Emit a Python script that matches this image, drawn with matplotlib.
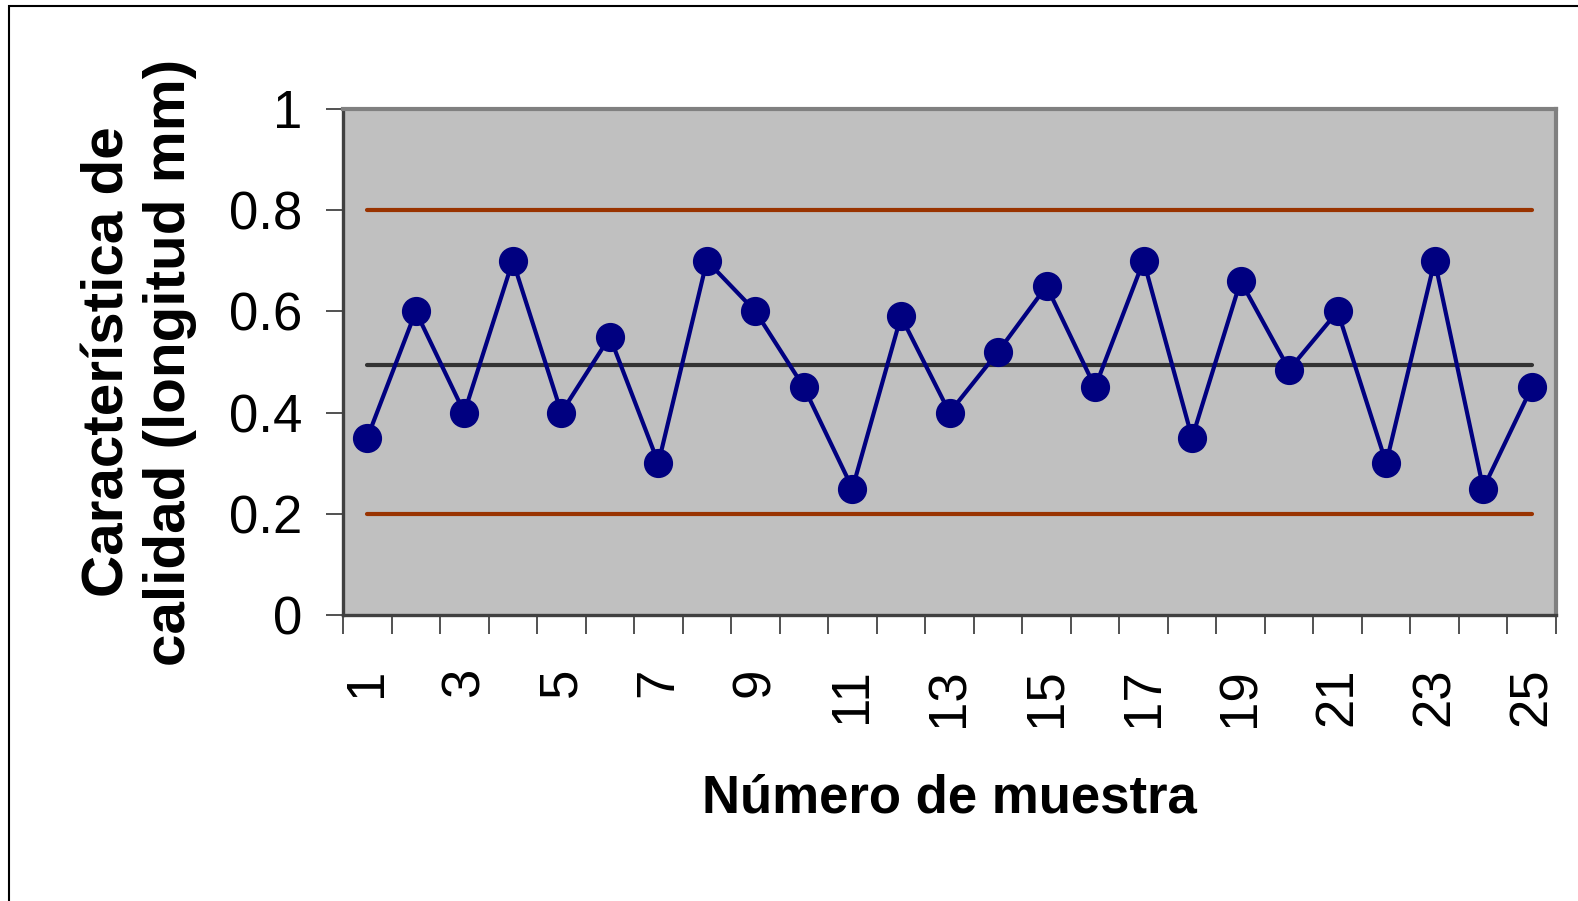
import numpy as np
import matplotlib
matplotlib.use("Agg")
from matplotlib import pyplot as plt
from matplotlib.patches import Rectangle

# Data
muestras = list(range(1, 26))
longitud = [0.35, 0.60, 0.40, 0.70, 0.40, 0.55, 0.30, 0.70, 0.60, 0.45,
            0.25, 0.59, 0.40, 0.52, 0.65, 0.45, 0.70, 0.35, 0.66, 0.485,
            0.60, 0.30, 0.70, 0.25, 0.45]
limite_superior = 0.8
linea_central = 0.495
limite_inferior = 0.2
y_ticks = [0, 0.2, 0.4, 0.6, 0.8, 1]
y_tick_labels = ["0", "0.2", "0.4", "0.6", "0.8", "1"]

# Styling
SERIES_COLOR = "#000080"
LIMIT_COLOR = "#993300"
CENTER_COLOR = "#333333"
PLOT_BG = "#C0C0C0"
FONT = ["Liberation Sans", "Arial", "DejaVu Sans"]
TICK_FONTSIZE = 38

plt.rcParams["font.family"] = FONT

fig = plt.figure(figsize=(15.78, 9.01), dpi=100)
ax = fig.add_axes([343 / 1578, 1 - 615 / 901, (1556 - 343) / 1578, (615 - 109) / 901])
ax.set_facecolor(PLOT_BG)

# Control limits and centre line, drawn from first to last sample
x_first, x_last = muestras[0], muestras[-1]
for level, color in [(limite_superior, LIMIT_COLOR),
                     (linea_central, CENTER_COLOR),
                     (limite_inferior, LIMIT_COLOR)]:
    ax.plot([x_first, x_last], [level, level], color=color, linewidth=3.0,
            solid_capstyle="round", zorder=2)

# Sample measurements
ax.plot(muestras, longitud, color=SERIES_COLOR, linewidth=3.0, marker="o",
        markersize=20, markerfacecolor=SERIES_COLOR, markeredgecolor=SERIES_COLOR,
        zorder=3)

ax.set_xlim(0.5, 25.5)
ax.set_ylim(0, 1)

# Y axis
ax.set_yticks(y_ticks)
ax.set_yticklabels(y_tick_labels, fontsize=TICK_FONTSIZE)
ax.tick_params(axis="y", direction="out", length=12, width=1.2, pad=17,
               color="#333333")

# X axis: tick marks between categories, labels on odd samples
ax.set_xticks(np.arange(0.5, 26, 1.0))
ax.set_xticklabels([])
ax.tick_params(axis="x", which="major", direction="out", length=14, width=1.2,
               color="#333333")
ax.set_xticks(muestras, minor=True)
ax.set_xticklabels([str(m) if m % 2 == 1 else "" for m in muestras],
                   minor=True, rotation=90, fontsize=TICK_FONTSIZE, va="top")
ax.tick_params(axis="x", which="minor", length=0, pad=38)

for side in ["top", "right"]:
    ax.spines[side].set_color("#808080")
    ax.spines[side].set_linewidth(3)
for side in ["left", "bottom"]:
    ax.spines[side].set_color("#404040")
    ax.spines[side].set_linewidth(2.4)

ax.set_xlabel("Número de muestra", fontsize=38, fontweight="bold", labelpad=34)
fig.text(139 / 1578, 1 - 362 / 901, "Característica de\ncalidad (longitud mm)",
         rotation=90, ha="center", va="center", fontsize=42, fontweight="bold",
         multialignment="center", linespacing=1.18)

# Outer chart frame (right and bottom edges fall outside the image)
fig.patches.append(Rectangle((9 / 1578, -0.05), 1.1, 0.05 + 1 - 6 / 901,
                             transform=fig.transFigure, fill=False,
                             edgecolor="black", linewidth=1.5))

fig.savefig("out.png", dpi=100)
